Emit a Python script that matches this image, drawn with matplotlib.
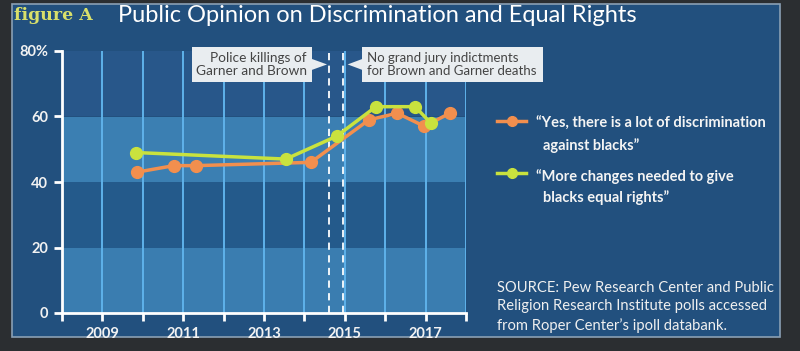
import matplotlib
matplotlib.use("Agg")
import matplotlib.pyplot as plt
from matplotlib.patches import Rectangle, Polygon
from matplotlib.lines import Line2D

plt.rcParams['font.family'] = ['Lato', 'DejaVu Sans']

# ---- data ----
disc_years = [2009.85, 2010.77, 2011.32, 2014.16, 2015.6, 2016.3, 2016.97, 2017.6]
disc_vals = [43, 45, 45, 46, 59, 61, 57, 61]
rights_years = [2009.83, 2013.54, 2014.8, 2015.77, 2016.74, 2017.13]
rights_vals = [49, 47, 54, 63, 63, 58]
event_years = [2014.62, 2014.95]
x_ticks = list(range(2008, 2019))
x_labels = ['' if y % 2 == 0 else str(y) for y in x_ticks]
y_ticks = [0, 20, 40, 60, 80]
y_labels = ['0', '20', '40', '60', '80%']
band_edges = [0, 20, 40, 60, 80]
disc_label = "“Yes, there is a lot of discrimination\n  against blacks”"
rights_label = "“More changes needed to give\n  blacks equal rights”"
source_text = ("SOURCE: Pew Research Center and Public\n"
               "Religion Research Institute polls accessed\n"
               "from Roper Center’s ipoll databank.")

ORANGE = '#f28f4e'
GREEN = '#c9e23e'
BG = '#22507e'

fig = plt.figure(figsize=(8, 3.51), dpi=100)
fig.patch.set_facecolor('#2b2e31')
panel = Rectangle((12/800, 1-337/351), (780-12)/800, (337-4)/351, transform=fig.transFigure,
                  facecolor=BG, edgecolor='#8aa0b4', linewidth=1.2, zorder=0)
fig.add_artist(panel)

ax = fig.add_axes([62/800, 1-313/351, (466-62)/800, (313-51)/351])
ax.set_facecolor('none')
ax.set_xlim(2008, 2018)
ax.set_ylim(0, 80)

band_colors = ['#3a7db0', '#245a8b', '#3b7fb2', '#28578a']
for i in range(4):
    ax.axhspan(band_edges[i], band_edges[i+1], color=band_colors[i], zorder=0, lw=0)

for y in x_ticks[1:]:
    ax.axvline(y, color='#5fb2ea', lw=1.4, zorder=1)

for ey in event_years:
    ax.axvline(ey, color='white', lw=1.3, ls=(0, (4, 3)), zorder=2)

ax.plot(disc_years, disc_vals, color=ORANGE, lw=2.5, marker='o', ms=8.5, zorder=4, clip_on=False)
ax.plot(rights_years, rights_vals, color=GREEN, lw=2.5, marker='o', ms=8.5, zorder=5, clip_on=False)

for s in ['top', 'right']:
    ax.spines[s].set_visible(False)
for s in ['left', 'bottom']:
    ax.spines[s].set_color('white')
    ax.spines[s].set_linewidth(2)
ax.set_xticks(x_ticks)
ax.set_xticklabels(x_labels)
ax.set_yticks(y_ticks)
ax.set_yticklabels(y_labels)
ax.tick_params(colors='white', width=2, length=6, labelsize=10.5, pad=4)
for lab in ax.get_xticklabels() + ax.get_yticklabels():
    lab.set_fontweight('bold')
    lab.set_color('#f2f2f2')

# annotation boxes
box_c = '#e9edf0'
txt_c = '#444444'
ax.add_patch(Rectangle((2011.22, 70.5), 2014.19-2011.22, 81.2-70.5, facecolor=box_c,
                       edgecolor='none', clip_on=False, zorder=6))
ax.add_patch(Polygon([(2014.18, 77.6), (2014.56, 75.9), (2014.18, 74.2)], closed=True,
                     facecolor=box_c, edgecolor='none', clip_on=False, zorder=6))
ax.text(2014.06, 75.9, "Police killings of\nGarner and Brown", ha='right', va='center',
        fontsize=9.8, color=txt_c, zorder=7, linespacing=1.1)
ax.add_patch(Rectangle((2015.43, 70.5), 2019.9-2015.43, 81.2-70.5, facecolor=box_c,
                       edgecolor='none', clip_on=False, zorder=6))
ax.add_patch(Polygon([(2015.44, 77.6), (2015.07, 75.9), (2015.44, 74.2)], closed=True,
                     facecolor=box_c, edgecolor='none', clip_on=False, zorder=6))
ax.text(2015.56, 75.9, "No grand jury indictments\nfor Brown and Garner deaths", ha='left', va='center',
        fontsize=9.5, color=txt_c, zorder=7, linespacing=1.1)

# title
fig.text(14/800, 1-16/351, "figure A", family=['DejaVu Serif'], fontweight='bold',
         fontsize=12.5, color='#d9e06a', va='center', ha='left')
fig.text(118/800, 1-16/351, "Public Opinion on Discrimination and Equal Rights",
         fontsize=17, color='white', va='center', ha='left')

# legend
for yy, col, lab in [(121, ORANGE, disc_label), (173, GREEN, rights_label)]:
    fig.add_artist(Line2D([497/800, 526/800], [1-yy/351, 1-yy/351], color=col, lw=2.5,
                          transform=fig.transFigure))
    fig.add_artist(Line2D([511.5/800], [1-yy/351], color=col, marker='o', ms=7,
                          transform=fig.transFigure))
    fig.text(536/800, 1-(yy-4)/351, lab, fontsize=10.5, fontweight='bold', color='#f4f4f4',
             va='top', ha='left', linespacing=1.55)

fig.text(497/800, 1-281/351, source_text, fontsize=10.6, color='#f0f0f0', va='top', ha='left',
         linespacing=1.4)

fig.savefig('out.png', dpi=100, facecolor=fig.get_facecolor())
